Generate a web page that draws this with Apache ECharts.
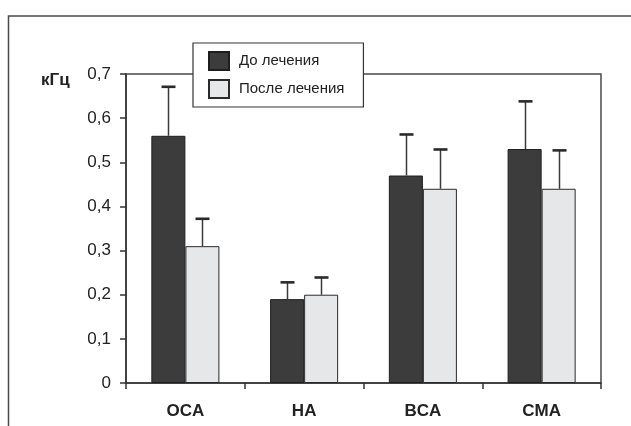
<!DOCTYPE html>
<html><head><meta charset="utf-8">
<script src="https://cdn.jsdelivr.net/npm/echarts@6/dist/echarts.min.js"></script>
<style>html,body{margin:0;padding:0;background:#fff}#c{width:631px;height:426px}</style>
</head><body><div id="c"></div>
<script>
var categories = ['OCA', 'HA', 'BCA', 'CMA'];
var seriesNames = ['До лечения', 'После лечения'];
var beforeValues = [0.56, 0.19, 0.47, 0.53];
var beforeErrTop = [0.671, 0.228, 0.563, 0.638];
var afterValues = [0.31, 0.20, 0.44, 0.44];
var afterErrTop = [0.372, 0.239, 0.529, 0.527];
var yTicks = ['0', '0,1', '0,2', '0,3', '0,4', '0,5', '0,6', '0,7'];
var unitLabel = 'кГц';

var CAT_GAP = 0.427;
function errData(vals, tops) {
  return vals.map(function (v, i) { return [i, tops[i], v]; });
}
function errRender(side) {
  return function (params, api) {
    var i = api.value(0);
    var base = api.coord([i, api.value(2)]);
    var top = api.coord([i, api.value(1)]);
    var bw = api.size([1, 0])[0] * (1 - CAT_GAP) / 2;
    var cx = Math.round(base[0] + side * bw / 2) + 0.5;
    return {
      type: 'group', children: [
        { type: 'line', shape: { x1: cx, y1: base[1], x2: cx, y2: top[1] }, style: { stroke: '#3a3a3a', lineWidth: 1.5 } },
        { type: 'line', shape: { x1: cx - 7, y1: top[1], x2: cx + 7, y2: top[1] }, style: { stroke: '#2a2a2a', lineWidth: 2.6 } }
      ]
    };
  };
}

var chart = echarts.init(document.getElementById('c'), null, { renderer: 'canvas' });
chart.setOption({
  animation: false,
  backgroundColor: '#fff',
  textStyle: { fontFamily: 'Liberation Sans, Arial, sans-serif' },
  grid: { left: 126, right: 30, top: 74, bottom: 43, show: true, borderColor: '#4a4a4a', borderWidth: 1.5, backgroundColor: 'transparent' },
  legend: {
    left: 193, top: 43, orient: 'vertical',
    data: seriesNames,
    itemWidth: 20, itemHeight: 18, itemGap: 8,
    padding: [8, 19, 8, 15],
    backgroundColor: '#fff', borderColor: '#333', borderWidth: 1.2,
    textStyle: { fontSize: 15, color: '#222', fontFamily: 'Liberation Sans, Arial, sans-serif', padding: [0, 0, 0, 5] },
    icon: 'rect',
    selectedMode: false
  },
  xAxis: {
    type: 'category', data: categories,
    axisLine: { lineStyle: { color: '#333', width: 1.5 } },
    axisTick: { show: true, length: 6, lineStyle: { color: '#333', width: 1.5 } },
    axisLabel: { fontSize: 17, fontWeight: 'bold', color: '#222', margin: 20 },
    splitLine: { show: false }
  },
  yAxis: {
    type: 'value', min: 0, max: 0.7, interval: 0.1,
    axisLine: { show: true, lineStyle: { color: '#333', width: 1.5 } },
    axisTick: { show: true, length: 6, lineStyle: { color: '#333', width: 1.5 } },
    axisLabel: { fontSize: 17, color: '#222', margin: 15, formatter: function (v) { return yTicks[Math.round(v * 10)]; } },
    splitLine: { show: false }
  },
  graphic: [
    { type: 'rect', shape: { x: 8.5, y: 16, width: 700, height: 500 }, style: { fill: 'none', stroke: '#4a4a4a', lineWidth: 1.5 }, z: -10 },
    { type: 'text', left: 41, top: 72, style: { text: unitLabel, fontSize: 17, fontWeight: 'bold', fill: '#222', fontFamily: 'Liberation Sans, Arial, sans-serif' } }
  ],
  series: [
    { name: seriesNames[0], type: 'bar', data: beforeValues, barGap: '0%', barCategoryGap: (CAT_GAP * 100) + '%',
      itemStyle: { color: '#3c3c3c', borderColor: '#1e1e1e', borderWidth: 1 } },
    { name: seriesNames[1], type: 'bar', data: afterValues, barGap: '0%', barCategoryGap: (CAT_GAP * 100) + '%',
      itemStyle: { color: '#e6e7e8', borderColor: '#2a2a2a', borderWidth: 1 } },
    { type: 'custom', renderItem: errRender(-1), data: errData(beforeValues, beforeErrTop), z: 3, silent: true },
    { type: 'custom', renderItem: errRender(1), data: errData(afterValues, afterErrTop), z: 3, silent: true }
  ]
});
</script></body></html>
